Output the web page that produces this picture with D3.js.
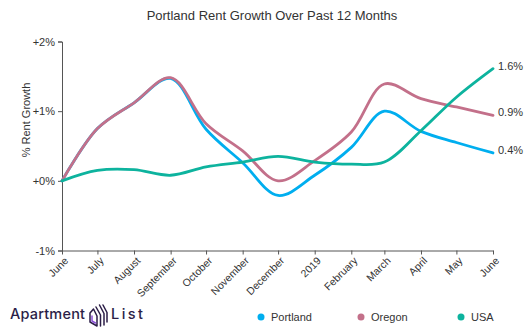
<!DOCTYPE html>
<html>
<head>
<meta charset="utf-8">
<script src="https://cdn.jsdelivr.net/npm/d3@7"></script>
<style>
  body { margin: 0; background: #fff; }
  svg { font-family: "Liberation Sans", Arial, sans-serif; }
  .axis path, .axis line { stroke: #555; }
  .axis text { fill: #333; font-size: 11px; }
</style>
</head>
<body>
<svg class="chart" width="529" height="329"></svg>
<script>
// data, % change since June 2018
var months = ["2018-06", "2018-07", "2018-08", "2018-09", "2018-10", "2018-11", "2018-12",
              "2019-01", "2019-02", "2019-03", "2019-04", "2019-05", "2019-06"];
var portland = [0, 0.75, 1.12, 1.47, 0.74, 0.26, -0.21, 0.08, 0.48, 1.0, 0.71, 0.55, 0.40];
var oregon   = [0, 0.75, 1.12, 1.48, 0.82, 0.43, 0.0, 0.29, 0.70, 1.39, 1.18, 1.06, 0.94];
var usa      = [0, 0.15, 0.16, 0.08, 0.2, 0.27, 0.35, 0.27, 0.24, 0.27, 0.72, 1.2, 1.61];
var seriesNames = ["Portland", "Oregon", "USA"];
var endLabels = ["0.4%", "0.9%", "1.6%"];
var yTicks = [-1, 0, 1, 2];

var colors = ["#00aeef", "#c3708a", "#0db39e"];
var parse = d3.timeParse("%Y-%m");
var dates = months.map(parse);

var series = [portland, oregon, usa].map(function(vals, i) {
  return { name: seriesNames[i], color: colors[i], label: endLabels[i],
           values: vals.map(function(v, j) { return { date: dates[j], value: v }; }) };
});

var svg = d3.select(".chart");

var x = d3.scaleTime()
    .domain(d3.extent(dates))
    .range([62, 493]);

var y = d3.scaleLinear()
    .domain([-1, 2])
    .range([250.5, 41.5]);

// title
svg.append("text")
    .attr("x", 272)
    .attr("y", 20)
    .attr("text-anchor", "middle")
    .style("font-size", "13px")
    .style("fill", "#333")
    .text("Portland Rent Growth Over Past 12 Months");

// axes
svg.append("g")
    .attr("class", "axis")
    .attr("transform", "translate(62,0)")
    .call(d3.axisLeft(y).tickValues(yTicks).tickSize(4).tickPadding(3)
      .tickFormat(function(d) { return (d >= 0 ? "+" : "") + d + "%"; }));

svg.append("g")
    .attr("class", "axis")
    .attr("transform", "translate(0,250.5)")
    .call(d3.axisBottom(x).ticks(d3.timeMonth.every(1)).tickSize(4).tickSizeOuter(0))
  .selectAll("text")
    .attr("text-anchor", "end")
    .attr("dx", "-0.3em")
    .attr("dy", "0.5em")
    .attr("transform", "rotate(-45)")
    .style("font-size", "10.5px");

svg.append("text")
    .attr("transform", "translate(30,120) rotate(-90)")
    .attr("text-anchor", "middle")
    .style("font-size", "11px")
    .style("fill", "#333")
    .text("% Rent Growth");

// lines
var line = d3.line()
    .x(function(d) { return x(d.date); })
    .y(function(d) { return y(d.value); })
    .curve(d3.curveCatmullRom.alpha(0.5));

svg.selectAll(".series")
    .data(series)
  .enter().append("path")
    .attr("class", "series")
    .attr("fill", "none")
    .attr("stroke", function(d) { return d.color; })
    .attr("stroke-width", 2.8)
    .attr("stroke-linecap", "round")
    .attr("d", function(d) { return line(d.values); });

svg.selectAll(".endlabel")
    .data(series)
  .enter().append("text")
    .attr("class", "endlabel")
    .attr("x", 498)
    .attr("y", function(d) { return y(d.values[d.values.length - 1].value); })
    .attr("dy", "0.1em")
    .style("font-size", "11px")
    .style("fill", "#333")
    .text(function(d) { return d.label; });

// legend
var legend = svg.selectAll(".legend")
    .data(series)
  .enter().append("g")
    .attr("class", "legend")
    .attr("transform", function(d, i) { return "translate(" + (261 + i * 100) + ",317)"; });

legend.append("circle")
    .attr("r", 3.5)
    .attr("fill", function(d) { return d.color; });

legend.append("text")
    .attr("x", 10)
    .attr("dy", "0.35em")
    .style("font-size", "11px")
    .style("fill", "#333")
    .text(function(d) { return d.name; });

// Apartment List logo
var logo = svg.append("g").attr("fill", "#2b1d47");
logo.append("text")
    .attr("x", 10)
    .attr("y", 318.5)
    .attr("textLength", 75)
    .style("font-family", "Inter, sans-serif")
    .style("font-size", "14.5px")
    .style("font-weight", "500")
    .text("Apartment");
logo.append("text")
    .attr("x", 111)
    .attr("y", 318.5)
    .attr("textLength", 32)
    .style("font-family", "Inter, sans-serif")
    .style("font-size", "14.5px")
    .style("font-weight", "500")
    .text("List");

var icon = svg.append("g")
    .attr("fill", "none")
    .attr("stroke-width", 1.5)
    .attr("stroke-linejoin", "round")
    .attr("stroke-linecap", "round");
// house outline
icon.append("path")
    .attr("d", "M90,313 L90,322 L97,326 L97,316 L93.5,309 Z")
    .attr("stroke", "#2b1d47");
icon.append("path")
    .attr("d", "M92,316 L92,321 L95.5,323")
    .attr("stroke", "#8b4fd8");
// stripes
icon.append("path")
    .attr("d", "M96,307 L100.5,315 L100.5,326")
    .attr("stroke", "#2b1d47");
icon.append("path")
    .attr("d", "M99.5,305 L104,313.5 L104,325")
    .attr("stroke", "#2b1d47");
icon.append("path")
    .attr("d", "M103,305 L107,312.5 L107,322")
    .attr("stroke", "#2b1d47");
</script>
</body>
</html>
